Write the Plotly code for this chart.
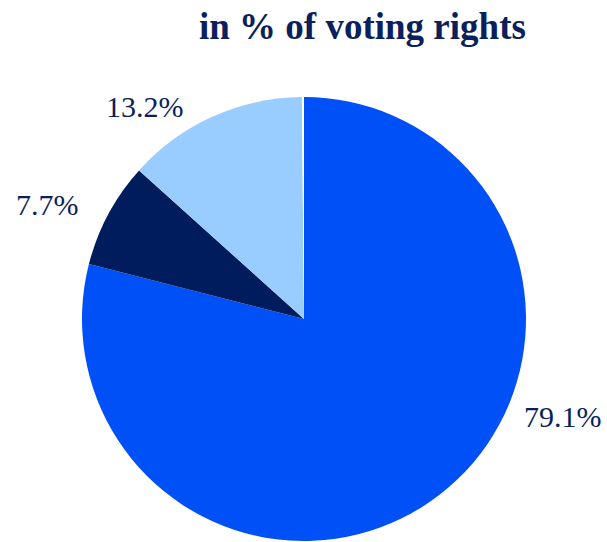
import plotly.graph_objects as go

# Data
categories = ["Group A", "Group B", "Group C", "Other"]
values = [79.1, 7.7, 13.2, 0.15]
label_texts = ["79.1%", "7.7%", "13.2%", ""]

# Styles
colors = ["#0050F7", "#001C5C", "#99CCFF", "#FFFFFF"]
text_color = "#0B1F5C"
W, H = 607, 542
label_pos = [(563, 416), (48, 204), (145, 106)]  # pixel positions of outside labels

fig = go.Figure(go.Pie(
    labels=categories,
    values=values,
    sort=False,
    direction="clockwise",
    rotation=0,
    marker=dict(colors=colors, line=dict(width=0)),
    textinfo="none",
    hoverinfo="label+percent",
    showlegend=False,
    domain=dict(x=[82 / W, 526 / W], y=[1 / H, 445 / H]),
))

annotations = []
for txt, (px, py) in zip(label_texts, label_pos):
    annotations.append(dict(
        text=txt, x=px / W, y=1 - py / H, xref="paper", yref="paper",
        showarrow=False, xanchor="center", yanchor="middle",
        font=dict(family="Liberation Serif", size=30, color=text_color),
    ))

annotations.append(dict(
    text="<b>in % of voting rights</b>", x=362 / W, y=1 - 27 / H,
    xref="paper", yref="paper", showarrow=False,
    xanchor="center", yanchor="middle",
    font=dict(family="Liberation Serif", size=37, color=text_color),
))

fig.update_layout(
    width=W, height=H,
    margin=dict(l=0, r=0, t=0, b=0),
    paper_bgcolor="white",
    plot_bgcolor="white",
    annotations=annotations,
)

fig.write_html("out.html")
